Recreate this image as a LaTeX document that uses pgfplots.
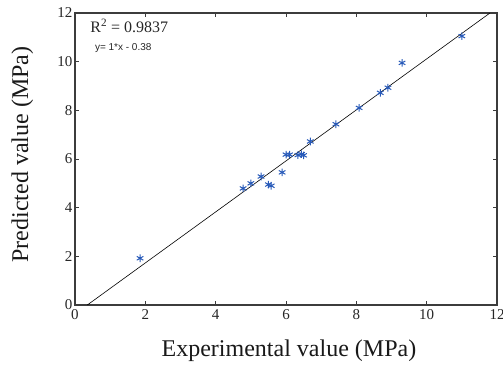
\documentclass[border=0pt]{standalone}
\usepackage{pgfplots}
\pgfplotsset{compat=1.18}
\usepackage{fontspec}
\setmainfont{Liberation Serif}
\newfontfamily\arialfont{Liberation Sans}
\definecolor{mkblue}{RGB}{40,90,185}
\definecolor{axgray}{RGB}{60,60,60}
\begin{document}
\begin{tikzpicture}
\begin{axis}[
  at={(0,0)}, anchor=south west,
  scale only axis, width=422pt, height=292pt,
  xmin=0, xmax=12, ymin=0, ymax=12,
  xtick={0,2,4,6,8,10,12}, ytick={0,2,4,6,8,10,12},
  tick align=inside,
  major tick length=4pt,
  axis line style={axgray, line width=1.1pt},
  every tick/.style={axgray, line width=0.8pt},
  /pgf/number format/assume math mode=true,
  tick label style={font=\fontsize{15}{17}\selectfont, text=black!85},
  xticklabel style={yshift=-1pt},
  yticklabel style={xshift=1pt},
  xlabel={Experimental value (MPa)},
  ylabel={Predicted value (MPa)},
  label style={font=\fontsize{24}{28}\selectfont, text=black!90},
  xlabel style={at={(axis description cs:0.507,-0.158)}, anchor=center},
  ylabel style={at={(axis description cs:-0.125,0.515)}, anchor=center},
  clip=true,
]
\addplot[black, line width=0.6pt] coordinates {(0.35,0) (11.8,12)};
\addplot[only marks, mark=asterisk, mark size=3.8pt, mkblue, mark options={line width=1pt}] coordinates {
(1.85,1.92)
(4.78,4.79)
(5.0,5.0)
(5.29,5.28)
(5.5,4.95)
(5.58,4.9)
(5.89,5.45)
(6.0,6.18)
(6.1,6.18)
(6.34,6.16)
(6.44,6.2)
(6.5,6.15)
(6.69,6.72)
(7.42,7.43)
(8.08,8.1)
(8.68,8.72)
(8.9,8.93)
(9.3,9.95)
(11.0,11.05)
};
\node[anchor=base west, inner sep=0pt, font=\fontsize{16}{18}\selectfont, text=black!85] at (axis description cs:0.036,0.932) {R$^{\mathrm{2}}$ = 0.9837};
\node[anchor=base west, inner sep=0pt, font=\arialfont\fontsize{10}{12}\selectfont, text=black!85] at (axis description cs:0.047,0.872) {y= 1*x - 0.38};
\end{axis}
\pgfresetboundingbox
\path (-75pt,-62pt) rectangle (428pt,305pt);
\end{tikzpicture}
\end{document}
